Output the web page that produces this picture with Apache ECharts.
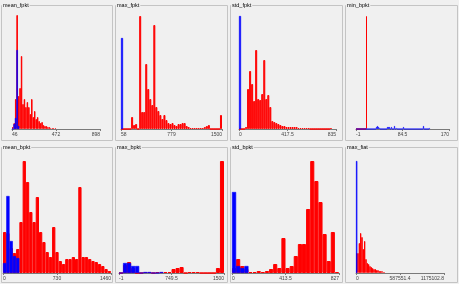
<!DOCTYPE html>
<html><head><meta charset="utf-8">
<script src="https://cdn.jsdelivr.net/npm/echarts@6/dist/echarts.min.js"></script>
<style>html,body{margin:0;padding:0;background:#f0f0f0;overflow:hidden}#c{width:459px;height:284px;}</style>
</head><body><div id="c"></div>
<script>
// ---- data ----
const titles = ['mean_fpkt','max_fpkt','std_fpkt','min_bpkt','mean_bpkt','max_bpkt','std_bpkt','max_fiat'];
const binCounts = [60, 50, 48, 93, 33, 26, 26, 66];
const ticks1 = ['46','472','898'];
const ticks2 = ['58','779','1500'];
const ticks3 = ['0','417.5','835'];
const ticks4 = ['-1','84.5','170'];
const ticks5 = ['0','730','1460'];
const ticks6 = ['-1','749.5','1500'];
const ticks7 = ['0','413.5','827'];
const ticks8 = ['0','587551.4','1175102.8'];

const red1  = [2,6,30,114,33,41,73,25,30,22,27,22,15,30,12,18,10,12,8,6,7,4,3,3,2,2,1,1,1,1];
const blue1 = [0,5,11,79,3];
const red2  = [0,0,0,0,0,12,4,5,0,113,17,17,65,40,30,24,104,22,18,14,10,14,9,6,5,6,4,3,5,5,6,6,3,2,1,1,1,1,1,1,1,2,3,4,0,0,0,0,0,14];
const blue2 = [91];
const red3  = [0,0,0,2,40,58,45,28,79,30,29,35,69,30,34,22,8,7,6,5,4,3,3,2,2,2,2,2,2,1,1,1,1,1,1,0,0,0,0,0,0,0,0,0,0,1];
const blue3 = [113];
const red4  = [0,0,0,0,0,0,0,0,0,0,113];
const blue4 = [0,0,0,0,0,0,0,0,0,0,0,0,0,0,0,0,0,0,0,0,2,3,2,1,0,0,0,0,0,0,0,2,2,2,0,2,0,0,3,0,1,0,0,0,0,0,0,2,0,0,0,0,0,0,0,0,0,0,0,0,0,0,0,0,0,0,0,3,0,0,0,0,0,1];
const red5  = [41,40,25,20,24,51,112,91,61,51,76,41,31,21,16,46,21,12,9,14,14,16,14,86,16,16,14,12,11,9,7,4,2];
const blue5 = [10,77,32,17,15];
const red6  = [0,8,11,5,0,0,1,1,0,1,1,1,1,4,5,6,0,1,1,1,0,0,0,0,5,112];
const blue6 = [0,10,10,7,7,0,1,1,0,0,1];
const red7  = [5,14,7,4,1,1,2,1,2,4,9,5,35,5,7,17,29,29,64,112,92,71,39,12,41,1];
const blue7 = [81,7,5,7];
const red8  = [20,20,30,40,36,24,32,14,10,9,7,6,5,4,4,3,3,2,2,2,1,1];
const blue8 = [112];

const reds = [red1,red2,red3,red4,red5,red6,red7,red8];
const blues = [blue1,blue2,blue3,blue4,blue5,blue6,blue7,blue8];
const tickSets = [ticks1,ticks2,ticks3,ticks4,ticks5,ticks6,ticks7,ticks8];

// ---- layout ----
const panelBoxes = [
  [0,0,114,142],[114,0,115,142],[229,0,115,142],[344,0,115,142],
  [0,142,114,142],[114,142,115,142],[229,142,115,142],[344,142,115,142]
];
const gridBoxes = [
  [12,12,88,117],[121,12,101,117],[239,12,97,117],[356,12,93,117],
  [3,156,108,117],[119,156,105,117],[232,156,107,117],[356,156,88,117]
];
const FONT = 'Liberation Sans';

const grid=[], xAxis=[], yAxis=[], series=[], title=[], graphic=[];
for (let i=0;i<8;i++){
  const g = gridBoxes[i];
  grid.push({left:g[0], top:g[1], width:g[2], height:g[3], containLabel:false});
  xAxis.push({type:'category', gridIndex:i, position:'top', show:false,
    data:Array.from({length:binCounts[i]},(_,k)=>k), boundaryGap:true});
  const tl = tickSets[i];
  xAxis.push({type:'value', gridIndex:i, position:'bottom', min:0, max:2, interval:1,
    axisLine:{show:true, lineStyle:{color:'#7a7a7a', width:1}},
    axisTick:{show:true, length:2, lineStyle:{color:'#7a7a7a'}},
    splitLine:{show:false},
    axisLabel:{show:true, fontSize:5, fontFamily:FONT, color:'#444', margin:3,
      alignMinLabel:'left', alignMaxLabel:'right',
      formatter:(v)=>tl[Math.round(v)]}});
  yAxis.push({type:'value', gridIndex:i, min:0, max:117, show:false});
  series.push({type:'bar', xAxisIndex:2*i, yAxisIndex:i, data:reds[i],
    barCategoryGap:'0%', barGap:'-100%',
    itemStyle:{color:'#ff0000', borderColor:'#ff0000', borderWidth:1}, silent:true, z:2});
  series.push({type:'bar', xAxisIndex:2*i, yAxisIndex:i, data:blues[i],
    barCategoryGap:'0%', barGap:'-100%',
    itemStyle:{color:'#0000ff', borderColor:'#0000ff', borderWidth:0.6}, silent:true, z:3});
  const p = panelBoxes[i];
  graphic.push({type:'rect', z:-10, silent:true,
    shape:{x:p[0]+1.5, y:p[1]+5.5, width:p[2]-3, height:p[3]-7},
    style:{fill:'none', stroke:'#c4c4c4', lineWidth:1}});
  title.push({text:titles[i], left:p[0]+2, top:p[1]+2, padding:[0,1],
    backgroundColor:'#f0f0f0',
    textStyle:{fontSize:5.5, fontFamily:FONT, fontWeight:'normal', color:'#000'}});
}

const chart = echarts.init(document.getElementById('c'), null, {renderer:'canvas'});
chart.setOption({
  animation:false,
  backgroundColor:'#f0f0f0',
  title, grid, xAxis, yAxis, series, graphic
});
</script>
</body></html>
